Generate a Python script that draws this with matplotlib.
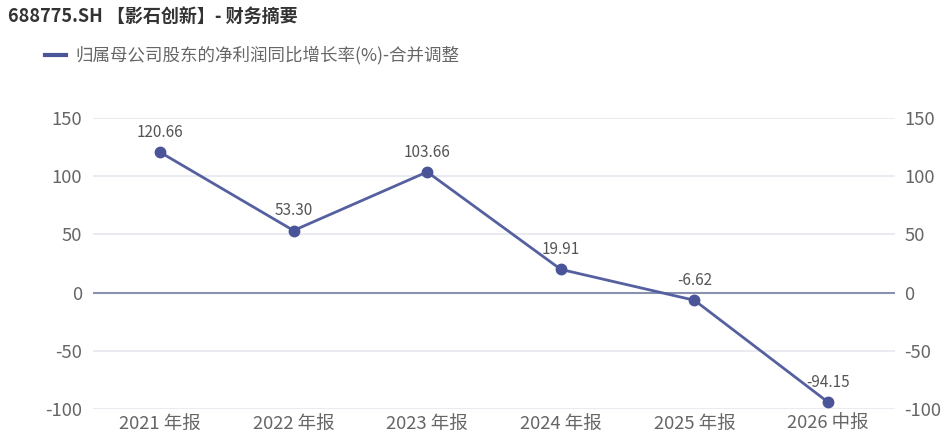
import matplotlib
matplotlib.use('Agg')
import matplotlib.pyplot as plt
import numpy as np

plt.rcParams['font.family'] = ['Noto Sans CJK SC', 'DejaVu Sans']
plt.rcParams['axes.unicode_minus'] = False

categories = ['2021 年报', '2022 年报', '2023 年报', '2024 年报', '2025 年报', '2026 中报']
growth = [120.66, 53.30, 103.66, 19.91, -6.62, -94.15]
yticks = [-100, -50, 0, 50, 100, 150]
title = '688775.SH 【影石创新】- 财务摘要'
series_name = '归属母公司股东的净利润同比增长率(%)-合并调整'

fig = plt.figure(figsize=(9.5, 4.4), dpi=100)
ax = fig.add_axes([0.098, 0.0705, 0.844, 0.6614])

x = np.arange(len(categories))
ax.plot(x, growth, color='#5560a0', linewidth=2, marker='o', markersize=7.5,
        markerfacecolor='#4a5499', markeredgecolor='#4a5499', zorder=3)
for xi, v in zip(x, growth):
    ax.annotate('%.2f' % v, (xi, v), xytext=(0, 8), textcoords='offset points',
                ha='center', va='bottom', fontsize=11, color='#555555')

ax.set_xlim(-0.5, len(categories) - 0.5)
ax.set_ylim(-100, 150)
ax.set_yticks(yticks)
ax.set_xticks(x)
ax.set_xticklabels(categories)
for yv in yticks:
    if yv == 0:
        ax.axhline(0, color='#8a90b0', linewidth=1.5, zorder=1)
    else:
        ax.axhline(yv, color='#e6e8ef', linewidth=1.2, zorder=0)

for s in ax.spines.values():
    s.set_visible(False)
ax.tick_params(axis='both', length=0, labelsize=13.3, colors='#666666')
ax.tick_params(axis='x', pad=4)
ax.tick_params(axis='y', pad=8)

ax2 = ax.twinx()
ax2.set_ylim(-100, 150)
ax2.set_yticks(yticks)
for s in ax2.spines.values():
    s.set_visible(False)
ax2.tick_params(axis='y', length=0, labelsize=13.3, colors='#666666', pad=7)

fig.text(0.008, 0.962, title, fontsize=13, fontweight='bold', color='#333333', va='center')
fig.lines.append(plt.Line2D([0.047, 0.069], [0.875, 0.875], transform=fig.transFigure,
                            color='#4a5499', linewidth=3))
fig.text(0.079, 0.875, series_name, fontsize=12.6, color='#666666', va='center')

fig.savefig('out.png', dpi=100)
